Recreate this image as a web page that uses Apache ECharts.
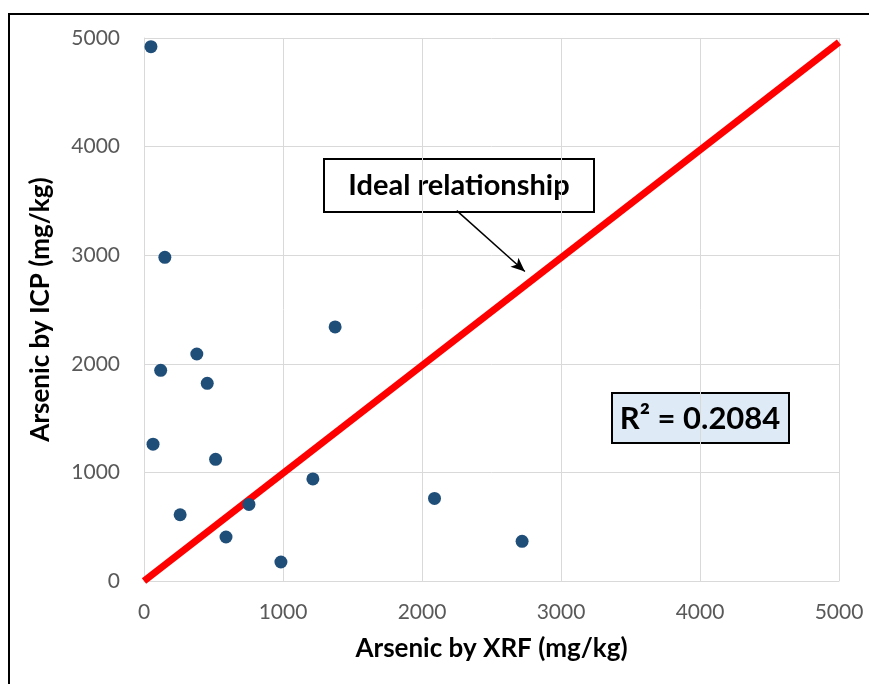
<!DOCTYPE html>
<html>
<head>
<meta charset="utf-8">
<script src="https://cdn.jsdelivr.net/npm/echarts@6/dist/echarts.min.js"></script>
<style>
  html, body { margin: 0; padding: 0; background: #fff; }
  #chart { width: 869px; height: 684px; }
</style>
</head>
<body>
<div id="chart"></div>
<script>
// XRF vs ICP arsenic readings (mg/kg)
const xrfValues = [50, 150, 120, 65, 380, 455, 515, 260, 590, 755, 985, 1215, 1375, 2090, 2720];
const icpValues = [4920, 2980, 1940, 1260, 2090, 1820, 1120, 610, 405, 705, 175, 940, 2340, 760, 365];
const idealLine = [[0, 0], [5000, 4960]];
const axisTicks = [0, 1000, 2000, 3000, 4000, 5000];
const rSquared = '0.2084';

const points = xrfValues.map((x, i) => [x, icpValues[i]]);
const font = 'Lato, "Open Sans", sans-serif';

const chart = echarts.init(document.getElementById('chart'));

const axisCommon = {
  type: 'value',
  min: axisTicks[0],
  max: axisTicks[axisTicks.length - 1],
  interval: 1000,
  nameLocation: 'middle',
  nameTextStyle: { fontFamily: font, fontWeight: 'bold', fontSize: 26, color: '#000' },
  axisLine: { show: true, lineStyle: { color: '#d9d9d9', width: 1 } },
  axisTick: { show: false },
  splitLine: { show: true, lineStyle: { color: '#d9d9d9', width: 1 } },
  axisLabel: { fontFamily: font, fontSize: 21, color: '#595959', formatter: (v) => String(v) }
};

chart.setOption({
  animation: false,
  backgroundColor: '#fff',
  grid: { left: 144, right: 30, top: 38, bottom: 103 },
  xAxis: Object.assign({}, axisCommon, {
    name: 'Arsenic by XRF (mg/kg)',
    nameGap: 55,
    axisLabel: Object.assign({}, axisCommon.axisLabel, { margin: 21 })
  }),
  yAxis: Object.assign({}, axisCommon, {
    name: 'Arsenic by ICP (mg/kg)',
    nameGap: 90,
    axisLabel: Object.assign({}, axisCommon.axisLabel, { margin: 24 })
  }),
  series: [
    {
      type: 'line',
      data: idealLine,
      symbol: 'none',
      lineStyle: { color: '#ff0000', width: 7 },
      z: 2,
      markLine: {
        silent: true,
        symbol: ['none', 'arrow'],
        symbolSize: [9, 14],
        label: { show: false },
        lineStyle: { color: '#000', width: 1.5, type: 'solid' },
        data: [[{ coord: [2250, 3410] }, { coord: [2740, 2850] }]]
      }
    },
    {
      type: 'scatter',
      data: points,
      symbolSize: 13,
      itemStyle: { color: '#1f4e79', opacity: 1 },
      z: 3
    }
  ],
  graphic: [
    {
      type: 'rect',
      shape: { x: 9, y: 14, width: 900, height: 700 },
      style: { fill: 'none', stroke: '#000', lineWidth: 2 },
      silent: true
    },
    {
      type: 'group',
      left: 323, top: 158,
      children: [
        {
          type: 'rect',
          shape: { x: 0, y: 0, width: 270, height: 53 },
          style: { fill: '#fff', stroke: '#000', lineWidth: 2 }
        },
        {
          type: 'text',
          x: 135, y: 27,
          style: {
            text: 'Ideal relationship', fontFamily: font, fontWeight: 'bold',
            fontSize: 29, fill: '#000', align: 'center', verticalAlign: 'middle'
          }
        }
      ]
    },
    {
      type: 'group',
      left: 611, top: 392,
      children: [
        {
          type: 'rect',
          shape: { x: 0, y: 0, width: 177, height: 50 },
          style: { fill: '#deebf7', stroke: '#000', lineWidth: 2 }
        },
        {
          type: 'text',
          x: 88, y: 26,
          style: {
            text: 'R² = ' + rSquared, fontFamily: font, fontWeight: 'bold',
            fontSize: 31, fill: '#000', align: 'center', verticalAlign: 'middle'
          }
        }
      ]
    }
  ]
});
</script>
</body>
</html>
